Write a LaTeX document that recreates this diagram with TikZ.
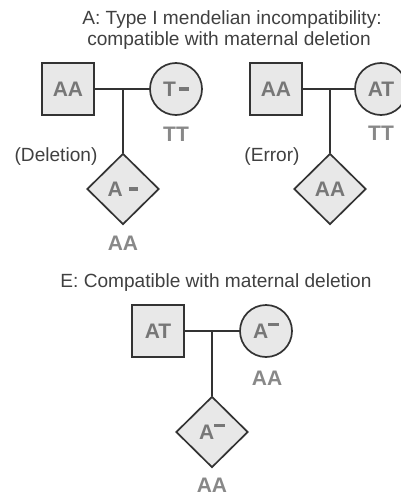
\documentclass[tikz,border=0pt]{standalone}
\usepackage{fontspec}
\setmainfont{Liberation Sans}
\usetikzlibrary{shapes.geometric}
\definecolor{symfill}{HTML}{E8E8E8}
\definecolor{symtext}{HTML}{777777}
\definecolor{gtlabel}{HTML}{888888}
\definecolor{headtext}{HTML}{404040}
\definecolor{edge}{HTML}{333333}
\newcommand{\deldash}{\rule[0.26em]{0.45em}{0.16em}}
\newcommand{\updash}{\rule[0.6em]{0.5em}{0.16em}}
\begin{document}
\begin{tikzpicture}[x=1pt,y=-1pt,
  male/.style={draw=edge, line width=1.7pt, fill=symfill, rectangle,
    minimum size=52pt, inner sep=0pt, text=symtext,
    font=\fontsize{21}{21}\selectfont\bfseries},
  female/.style={draw=edge, line width=1.7pt, fill=symfill, circle,
    minimum size=52pt, inner sep=0pt, text=symtext,
    font=\fontsize{21}{21}\selectfont\bfseries},
  child/.style={draw=edge, line width=1.7pt, fill=symfill, diamond,
    minimum width=72pt, minimum height=71pt, inner sep=0pt, text=symtext,
    font=\fontsize{21}{21}\selectfont\bfseries},
  genotype/.style={anchor=base, inner sep=0pt, text=gtlabel,
    font=\fontsize{21}{21}\selectfont\bfseries},
  caption/.style={anchor=base, inner sep=0pt, text=headtext,
    font=\fontsize{19.1}{19.1}\selectfont},
  link/.style={draw=edge, line width=1.7pt}
]
\useasboundingbox (0,0) rectangle (401,495);
\clip (0,0) rectangle (401,495);

% headings
\node[caption] (h1) at (232,25) {A: Type I mendelian incompatibility:};
\node[caption] (h2) at (229,46) {compatible with maternal deletion};
\node[caption] (h3) at (216,287) {E: Compatible with maternal deletion};

% left family: deletion
\node[male] (f1) at (68,89) {AA};
\node[female] (m1) at (176,89) {T\,\deldash};
\node[child] (c1) at (123,189) {A\hspace{0.3em}\deldash};
\coordinate (j1) at (123,89);
\draw[link] (f1) -- (m1);
\draw[link] (j1) -- (c1.north);
\node[genotype] (g1) at (176,141) {TT};
\node[genotype] (g2) at (123,250) {AA};
\node[caption] (n1) at (56,161) {(Deletion)};

% right family: error
\node[male] (f2) at (276,89) {AA};
\node[female] (m2) at (381,89) {AT};
\node[child] (c2) at (330,189) {AA};
\coordinate (j2) at (330,89);
\draw[link] (f2) -- (m2);
\draw[link] (j2) -- (c2.north);
\node[genotype] (g3) at (381,140) {TT};
\node[caption] (n2) at (272,161) {(Error)};

% family E
\node[male] (f3) at (158,331) {AT};
\node[female] (m3) at (266,331) {A\updash};
\node[child] (c3) at (212,432) {A\updash};
\coordinate (j3) at (212,331);
\draw[link] (f3) -- (m3);
\draw[link] (j3) -- (c3.north);
\node[genotype] (g4) at (267,385) {AA};
\node[genotype] (g5) at (212,492) {AA};
\end{tikzpicture}
\end{document}
